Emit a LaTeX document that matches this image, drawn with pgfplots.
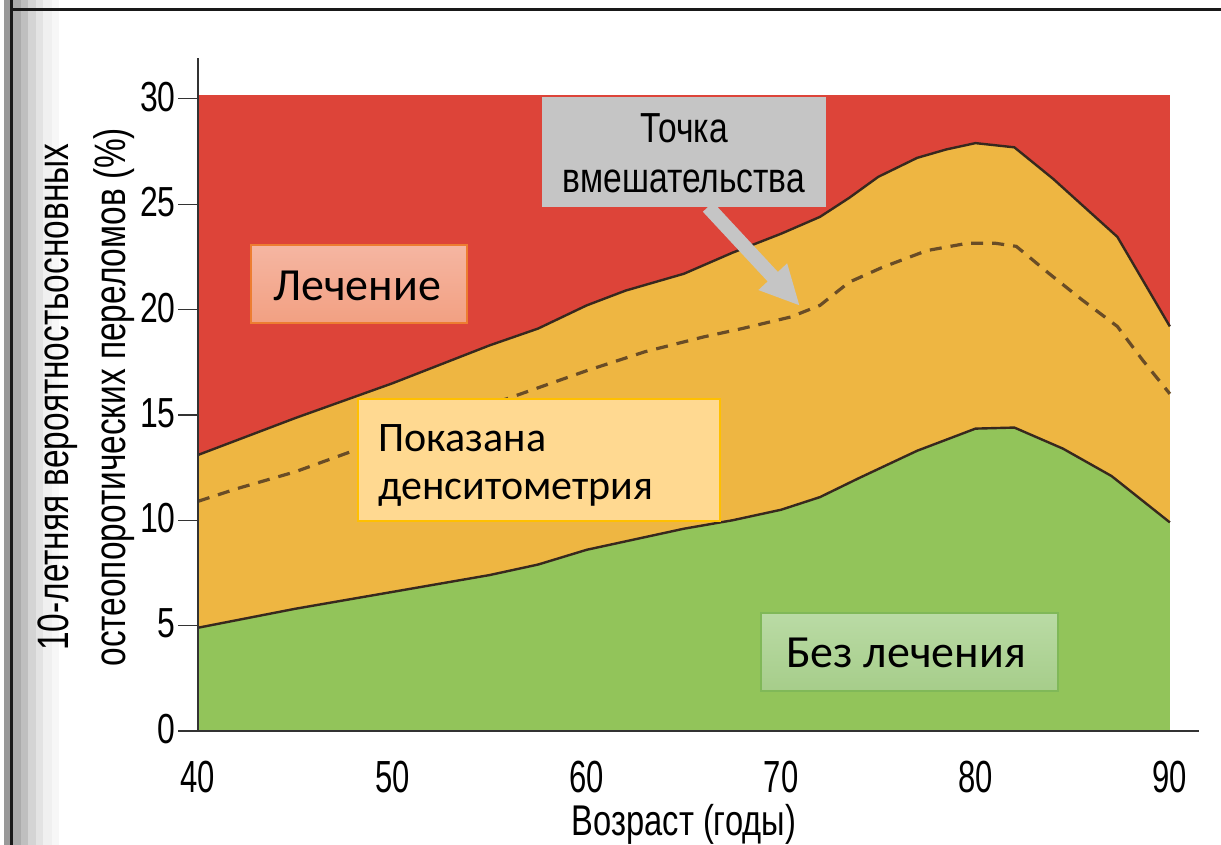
\documentclass[border=0pt]{standalone}
\usepackage{pgfplots}
\usepackage{pgfplotstable}
\pgfplotsset{compat=1.18}
\usepackage{fontspec}
\setmainfont{Liberation Sans}
\newfontfamily\cond[FakeStretch=0.8]{Liberation Sans}
\newfontfamily\condA[FakeStretch=0.76]{Liberation Sans}
\newfontfamily\condB[FakeStretch=0.69]{Liberation Sans}
\newfontfamily\carl{Carlito}
\usetikzlibrary{arrows.meta}

\definecolor{cred}{RGB}{221,68,57}
\definecolor{corange}{RGB}{238,182,66}
\definecolor{cgreen}{RGB}{146,196,90}
\definecolor{cline}{RGB}{55,40,30}
\definecolor{cdash}{RGB}{105,76,38}
\definecolor{boxgray}{RGB}{197,197,197}
\definecolor{salmtop}{RGB}{245,182,162}
\definecolor{salmbot}{RGB}{242,160,130}
\definecolor{salmedge}{RGB}{237,125,49}
\definecolor{yelfill}{RGB}{255,217,145}
\definecolor{yeledge}{RGB}{255,192,0}
\definecolor{grntop}{RGB}{186,219,165}
\definecolor{grnbot}{RGB}{166,205,138}
\definecolor{grnedge}{RGB}{128,184,88}

\pgfplotstableread{
x y
40 13.1
45 14.85
50 16.5
55 18.3
57.5 19.1
60 20.2
62 20.9
65 21.7
67.5 22.7
70 23.6
72 24.4
73.5 25.3
75 26.3
77 27.2
78.5 27.6
80 27.9
82 27.7
84 26.2
87.3 23.45
90 19.2
}\tupper

\pgfplotstableread{
x y
40 4.9
45 5.8
50 6.6
55 7.4
57.5 7.9
60 8.6
62.5 9.1
65 9.6
67.5 10.0
70 10.5
72 11.1
74 12.0
77 13.3
80 14.35
82 14.4
84.5 13.4
87 12.1
90 9.9
}\tlower

\pgfplotstableread{
x y
40 10.9
42 11.5
45 12.3
48 13.3
50 13.9
53 14.9
56 15.8
60 17.1
63 18.0
66 18.7
68 19.1
70.5 19.65
72 20.2
73.5 21.3
75.2 22.0
77.5 22.8
79.6 23.15
81 23.15
82.1 23.0
83.8 21.7
85.5 20.45
87.3 19.2
88.6 17.6
90 16.0
}\tdashed

\begin{document}
\begin{tikzpicture}
\useasboundingbox (0,0) rectangle (610.5pt,422.5pt);
% frame decoration (pixel coordinates)
\begin{scope}[x=0.5pt,y=-0.5pt,yshift=422.5pt]
  \fill[black!40] (4,0) rectangle (10,845);
  \fill[black!33] (13,0) rectangle (21,845);
  \fill[black!25] (21,0) rectangle (28,845);
  \fill[black!17] (28,0) rectangle (36,845);
  \fill[black!11] (36,0) rectangle (43,845);
  \fill[black!6] (43,0) rectangle (52,845);
  \fill[black!3] (52,0) rectangle (59,845);
  \fill[black!90] (10,0) rectangle (13,845);
  \fill[black!90] (10,8) rectangle (1221,11);
\end{scope}

\begin{axis}[
  at={(99pt,57pt)}, anchor=south west, scale only axis,
  width=500.5pt, height=336.5pt,
  xmin=40, xmax=91.5, ymin=0, ymax=31.94,
  axis lines=left,
  axis line style={-, draw=black!80, line width=0.6pt},
  xtick={40,50,...,90}, ytick={0,5,...,30},
  tick align=outside, major tick length=10pt,
  xtick style={draw=none},
  ytick style={draw=black!80, line width=0.6pt},
  /pgf/number format/assume math mode=true,
  xticklabel style={font=\condB\fontsize{22.5}{22.5}\selectfont, inner sep=0pt, yshift=-5pt},
  yticklabel style={font=\condA\fontsize{21}{21}\selectfont, inner sep=1pt, yshift=1pt},
  xlabel={Возраст (годы)},
  xlabel style={font=\condA\fontsize{21.5}{21.5}\selectfont, at={(axis description cs:0.4855,-0.156)}, anchor=base, inner sep=0pt},
  ylabel={10-летняя вероятностьосновных\\остеопоротических переломов (\%)},
  ylabel style={font=\condA\fontsize{22}{28.5}\selectfont, align=center, at={(axis description cs:-0.112,0.496)}, anchor=center, rotate=0},
  axis on top,
  clip=false,
]
\addplot[fill=cred, draw=none] coordinates {(40,30.2) (90,30.2)} \closedcycle;
\addplot[fill=corange, draw=none] table {\tupper} \closedcycle;
\addplot[fill=cgreen, draw=none] table {\tlower} \closedcycle;
\addplot[draw=cline, line width=1.2pt, line join=round] table {\tupper};
\addplot[draw=cline, line width=1.2pt, line join=round] table {\tlower};
\addplot[draw=cdash, line width=1.6pt, dash pattern=on 6pt off 4.5pt] table {\tdashed};
\end{axis}

% annotation boxes (pixel coordinates)
\begin{scope}[x=0.5pt,y=-0.5pt,yshift=422.5pt]
  % Лечение
  \shade[top color=salmtop, bottom color=salmbot] (251,245) rectangle (467,323);
  \draw[draw=salmedge, line width=0.6pt] (251,245) rectangle (467,323);
  \node[font=\carl\fontsize{23}{23}\selectfont, anchor=base, inner sep=0pt] at (357,301) {Лечение};
  % Показана денситометрия
  \fill[yelfill] (358,399) rectangle (720,521);
  \draw[draw=yeledge, line width=0.8pt] (358,399) rectangle (720,521);
  \node[font=\carl\fontsize{21}{21}\selectfont, anchor=base west, inner sep=0pt] at (378,452) {Показана};
  \node[font=\carl\fontsize{21}{21}\selectfont, anchor=base west, inner sep=0pt] at (378,500) {денситометрия};
  % Без лечения
  \shade[top color=grntop, bottom color=grnbot] (761,613) rectangle (1058,691);
  \draw[draw=grnedge, line width=0.6pt] (761,613) rectangle (1058,691);
  \node[font=\carl\fontsize{23}{23}\selectfont, anchor=base, inner sep=0pt] at (906,668) {Без лечения};
  % Точка вмешательства
  \draw[boxgray, line width=7pt, -{Triangle[width=18pt,length=20pt]}] (708,207) -- (800,306);
  \fill[boxgray] (542,97) rectangle (826,207);
  \node[font=\cond\fontsize{21}{21}\selectfont, anchor=base, inner sep=0pt] at (684,143) {Точка};
  \node[font=\cond\fontsize{21}{21}\selectfont, anchor=base, inner sep=0pt] at (684,193) {вмешательства};
\end{scope}
\end{tikzpicture}
\end{document}
